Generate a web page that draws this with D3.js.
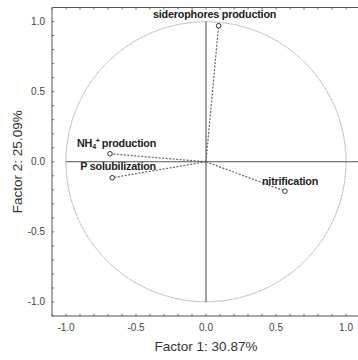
<!DOCTYPE html>
<html>
<head>
<meta charset="utf-8">
<script src="https://cdn.jsdelivr.net/npm/d3@7"></script>
<style>
  body { margin: 0; background: #fff; }
  text { font-family: "Liberation Sans", Arial, sans-serif; }
</style>
</head>
<body>
<svg id="chart" width="358" height="360"></svg>
<script>
const width = 358;
const height = 360;

// loadings on factor 1 / factor 2
const variables = ["siderophores production", "NH4+ production", "P solubilization", "nitrification"];
const factor1 = [0.09, -0.686, -0.67, 0.564];
const factor2 = [0.97, 0.057, -0.114, -0.21];

const majorTicks = [-1.0, -0.5, 0.0, 0.5, 1.0];
const xTitle = "Factor 1: 30.87%";
const yTitle = "Factor 2: 25.09%";

const svg = d3.select("#chart");

const x = d3.scaleLinear().domain([-1.1, 1.1]).range([52, 360]);
const y = d3.scaleLinear().domain([-1.1, 1.1]).range([316, 7.5]);

const minorTicks = d3.range(-11, 12).map(d => d / 10);

// frame (right edge falls off-canvas)
const frame = svg.append("g").attr("stroke", "#555").attr("stroke-width", 1).attr("fill", "none");
frame.append("line").attr("x1", x(-1.1)).attr("x2", x(1.1)).attr("y1", y(1.1)).attr("y2", y(1.1));
frame.append("line").attr("x1", x(-1.1)).attr("x2", x(1.1)).attr("y1", y(-1.1)).attr("y2", y(-1.1));
frame.append("line").attr("x1", x(-1.1)).attr("x2", x(-1.1)).attr("y1", y(1.1)).attr("y2", y(-1.1));
frame.append("line").attr("x1", x(1.1)).attr("x2", x(1.1)).attr("y1", y(1.1)).attr("y2", y(-1.1));

// inward ticks
const tickG = svg.append("g").attr("stroke", "#666").attr("stroke-width", 1);
minorTicks.forEach(t => {
  tickG.append("line").attr("x1", x(t)).attr("x2", x(t)).attr("y1", y(-1.1)).attr("y2", y(-1.1) - 2);
  tickG.append("line").attr("x1", x(t)).attr("x2", x(t)).attr("y1", y(1.1)).attr("y2", y(1.1) + 2);
  tickG.append("line").attr("y1", y(t)).attr("y2", y(t)).attr("x1", x(-1.1)).attr("x2", x(-1.1) + 2);
  tickG.append("line").attr("y1", y(t)).attr("y2", y(t)).attr("x1", x(1.1)).attr("x2", x(1.1) - 2);
});

// tick labels
svg.append("g").selectAll("text").data(majorTicks).join("text")
  .attr("x", d => x(d))
  .attr("y", y(-1.1) + 15)
  .attr("text-anchor", "middle")
  .attr("font-size", 10)
  .attr("fill", "#444")
  .text(d => d.toFixed(1));

svg.append("g").selectAll("text").data(majorTicks).join("text")
  .attr("x", x(-1.1) - 7)
  .attr("y", d => y(d) + 3.5)
  .attr("text-anchor", "end")
  .attr("font-size", 10)
  .attr("fill", "#444")
  .text(d => d.toFixed(1));

// axis titles
svg.append("text")
  .attr("x", x(0))
  .attr("y", 351)
  .attr("text-anchor", "middle")
  .attr("font-size", 13.5)
  .attr("fill", "#333")
  .text(xTitle);

svg.append("text")
  .attr("transform", `translate(22, ${y(0)}) rotate(-90)`)
  .attr("text-anchor", "middle")
  .attr("font-size", 13.5)
  .attr("fill", "#333")
  .text(yTitle);

// unit circle
svg.append("circle")
  .attr("cx", x(0))
  .attr("cy", y(0))
  .attr("r", x(1) - x(0))
  .attr("fill", "none")
  .attr("stroke", "#999")
  .attr("stroke-width", 1)
  .attr("stroke-dasharray", "1,0.6");

// reference axes through origin
svg.append("line")
  .attr("x1", x(-1)).attr("x2", x(1.1))
  .attr("y1", y(0)).attr("y2", y(0))
  .attr("stroke", "#555").attr("stroke-width", 1);
svg.append("line")
  .attr("x1", x(0)).attr("x2", x(0))
  .attr("y1", y(1)).attr("y2", y(-1))
  .attr("stroke", "#444").attr("stroke-width", 1);

const data = variables.map((v, i) => ({ name: v, f1: factor1[i], f2: factor2[i] }));

// vectors
svg.append("g").selectAll("line").data(data).join("line")
  .attr("x1", x(0)).attr("y1", y(0))
  .attr("x2", d => x(d.f1)).attr("y2", d => y(d.f2))
  .attr("stroke", "#666")
  .attr("stroke-width", 1.2)
  .attr("stroke-dasharray", "2,1.5");

svg.append("g").selectAll("circle").data(data).join("circle")
  .attr("cx", d => x(d.f1)).attr("cy", d => y(d.f2))
  .attr("r", 2.3)
  .attr("fill", "#fff")
  .attr("stroke", "#333")
  .attr("stroke-width", 1);

// labels
const labelOffsets = {
  "siderophores production": [-4, -8, "middle"],
  "NH4+ production": [-33, -7, "start"],
  "P solubilization": [-32, -8, "start"],
  "nitrification": [-23, -6, "start"]
};

const labels = svg.append("g");
data.forEach(d => {
  const [dx, dy, anchor] = labelOffsets[d.name];
  const t = labels.append("text")
    .attr("x", x(d.f1) + dx)
    .attr("y", y(d.f2) + dy)
    .attr("text-anchor", anchor)
    .attr("font-size", 10.8)
    .attr("font-weight", "bold")
    .attr("letter-spacing", -0.2)
    .attr("fill", "#222");
  if (d.name === "NH4+ production") {
    t.append("tspan").text("NH");
    t.append("tspan").attr("font-size", 7).attr("dy", 2).text("4");
    t.append("tspan").attr("font-size", 7).attr("dy", -6).text("+");
    t.append("tspan").attr("dy", 4).attr("dx", 2).text("production");
  } else {
    t.text(d.name);
  }
});
</script>
</body>
</html>
